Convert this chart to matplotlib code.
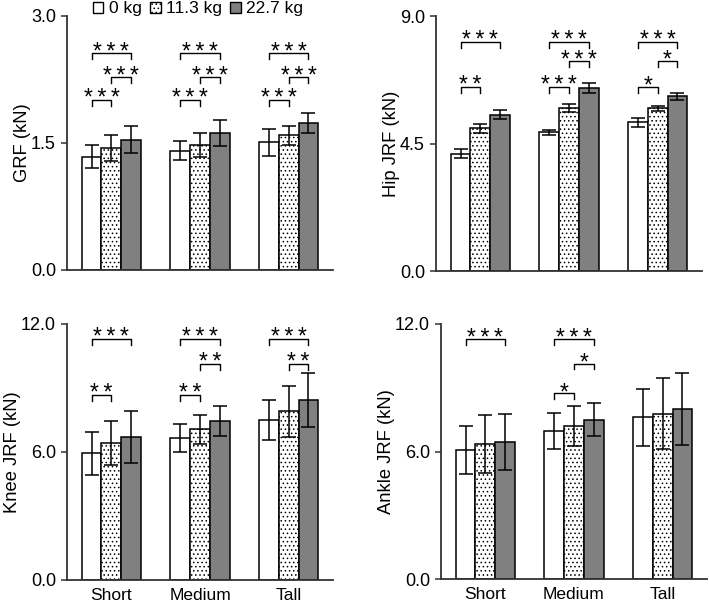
import matplotlib
matplotlib.use("Agg")
import matplotlib.pyplot as plt
from matplotlib.patches import Patch
import numpy as np

plt.rcParams['font.family'] = ['Liberation Sans', 'DejaVu Sans']
plt.rcParams['hatch.linewidth'] = 0.6

heights = ['Short', 'Medium', 'Tall']
loads = ['0 kg', '11.3 kg', '22.7 kg']

# means / SD per load (rows) for Short, Medium, Tall (cols)
grf_mean = [[1.34, 1.41, 1.51], [1.44, 1.48, 1.59], [1.54, 1.62, 1.74]]
grf_err = [[0.14, 0.11, 0.16], [0.15, 0.14, 0.11], [0.16, 0.15, 0.12]]
hip_mean = [[4.14, 4.89, 5.25], [5.03, 5.76, 5.74], [5.51, 6.46, 6.17]]
hip_err = [[0.16, 0.10, 0.15], [0.16, 0.14, 0.09], [0.16, 0.16, 0.12]]
knee_mean = [[5.93, 6.67, 7.50], [6.42, 7.06, 7.90], [6.71, 7.45, 8.42]]
knee_err = [[1.03, 0.65, 0.95], [1.04, 0.69, 1.19], [1.21, 0.72, 1.27]]
ankle_mean = [[6.07, 6.96, 7.61], [6.34, 7.21, 7.78], [6.46, 7.49, 8.00]]
ankle_err = [[1.15, 0.83, 1.33], [1.36, 0.93, 1.68], [1.31, 0.78, 1.71]]

# significance brackets: (group, bar a, bar b, y, stars)
grf_sig = [(0, 0, 2, 2.56, '***'), (0, 1, 2, 2.28, '***'), (0, 0, 1, 2.01, '***'),
           (1, 0, 2, 2.56, '***'), (1, 1, 2, 2.28, '***'), (1, 0, 1, 2.01, '***'),
           (2, 0, 2, 2.56, '***'), (2, 1, 2, 2.28, '***'), (2, 0, 1, 2.01, '***')]
hip_sig = [(0, 0, 2, 8.09, '***'), (0, 0, 1, 6.50, '**'),
           (1, 0, 2, 8.09, '***'), (1, 1, 2, 7.41, '***'), (1, 0, 1, 6.50, '***'),
           (2, 0, 2, 8.09, '***'), (2, 1, 2, 7.41, '*'), (2, 0, 1, 6.50, '*')]
knee_sig = [(0, 0, 2, 11.31, '***'), (0, 0, 1, 8.69, '**'),
            (1, 0, 2, 11.31, '***'), (1, 1, 2, 10.13, '**'), (1, 0, 1, 8.69, '**'),
            (2, 0, 2, 11.31, '***'), (2, 1, 2, 10.13, '**')]
ankle_sig = [(0, 0, 2, 11.28, '***'),
             (1, 0, 2, 11.28, '***'), (1, 1, 2, 10.14, '*'), (1, 0, 1, 8.73, '*')]

W, H = 709, 603
fills = ['white', 'white', '#808080']
hatches = [None, '....', None]
bw = 0.222
spine_c = '#333333'


def panel(rect, mean, err, sig, ymax, ylabel, show_x):
    ax = fig.add_axes(rect)
    x = np.arange(len(heights))
    for k in range(3):
        ax.bar(x + (k - 1) * bw, mean[k], bw, yerr=err[k], color=fills[k],
               edgecolor='black', linewidth=1.1, hatch=hatches[k],
               error_kw=dict(ecolor='black', elinewidth=1.1, capsize=5, capthick=1.1))
    tick = ymax * 0.023
    for g, a, b, y, s in sig:
        xa = g + (a - 1) * bw
        xb = g + (b - 1) * bw
        ax.plot([xa, xa, xb, xb], [y - tick, y, y, y - tick], color='black', lw=1.0)
        ax.annotate('\u2009'.join(s), ((xa + xb) / 2, y), xytext=(0, -4),
                    textcoords='offset points', ha='center', va='baseline', fontsize=16.5)
    ax.set_xlim(-0.5, 2.5)
    ax.set_ylim(0, ymax)
    ax.set_yticks([0, ymax / 2, ymax])
    ax.set_yticklabels([f'{v:.1f}' for v in [0, ymax / 2, ymax]], fontsize=13)
    ax.set_xticks(x)
    ax.set_xticklabels(heights if show_x else [], fontsize=12.5)
    ax.tick_params(axis='x', length=0, pad=6)
    ax.tick_params(axis='y', length=4, width=1.1, color=spine_c, pad=4)
    for s in ['top', 'right']:
        ax.spines[s].set_visible(False)
    for s in ['left', 'bottom']:
        ax.spines[s].set_color(spine_c)
        ax.spines[s].set_linewidth(1.3)
    ax.set_ylabel(ylabel, fontsize=13.2, labelpad=0)
    return ax


fig = plt.figure(figsize=(W / 100, H / 100), dpi=100)

ax1 = panel([67 / W, 1 - 270 / H, 266 / W, 254 / H], grf_mean, grf_err, grf_sig, 3.0, 'GRF (kN)', False)
ax2 = panel([436 / W, 1 - 271 / H, 266 / W, 255 / H], hip_mean, hip_err, hip_sig, 9.0, 'Hip JRF (kN)', False)
ax3 = panel([67 / W, 1 - 580 / H, 266 / W, 256 / H], knee_mean, knee_err, knee_sig, 12.0, 'Knee JRF (kN)', True)
ax4 = panel([441 / W, 1 - 579 / H, 266 / W, 255 / H], ankle_mean, ankle_err, ankle_sig, 12.0, 'Ankle JRF (kN)', True)

handles = [Patch(facecolor=fills[k], edgecolor='black', hatch=hatches[k], linewidth=1.0) for k in range(3)]
ax1.legend(handles, loads, loc='center', bbox_to_anchor=(198 / W, 1 - 9 / H),
           bbox_transform=fig.transFigure, ncol=3, frameon=False, fontsize=12.5,
           handlelength=0.6, handleheight=0.6, handletextpad=0.3, columnspacing=0.5,
           borderpad=0, borderaxespad=0)

fig.savefig('out.png', dpi=100)
